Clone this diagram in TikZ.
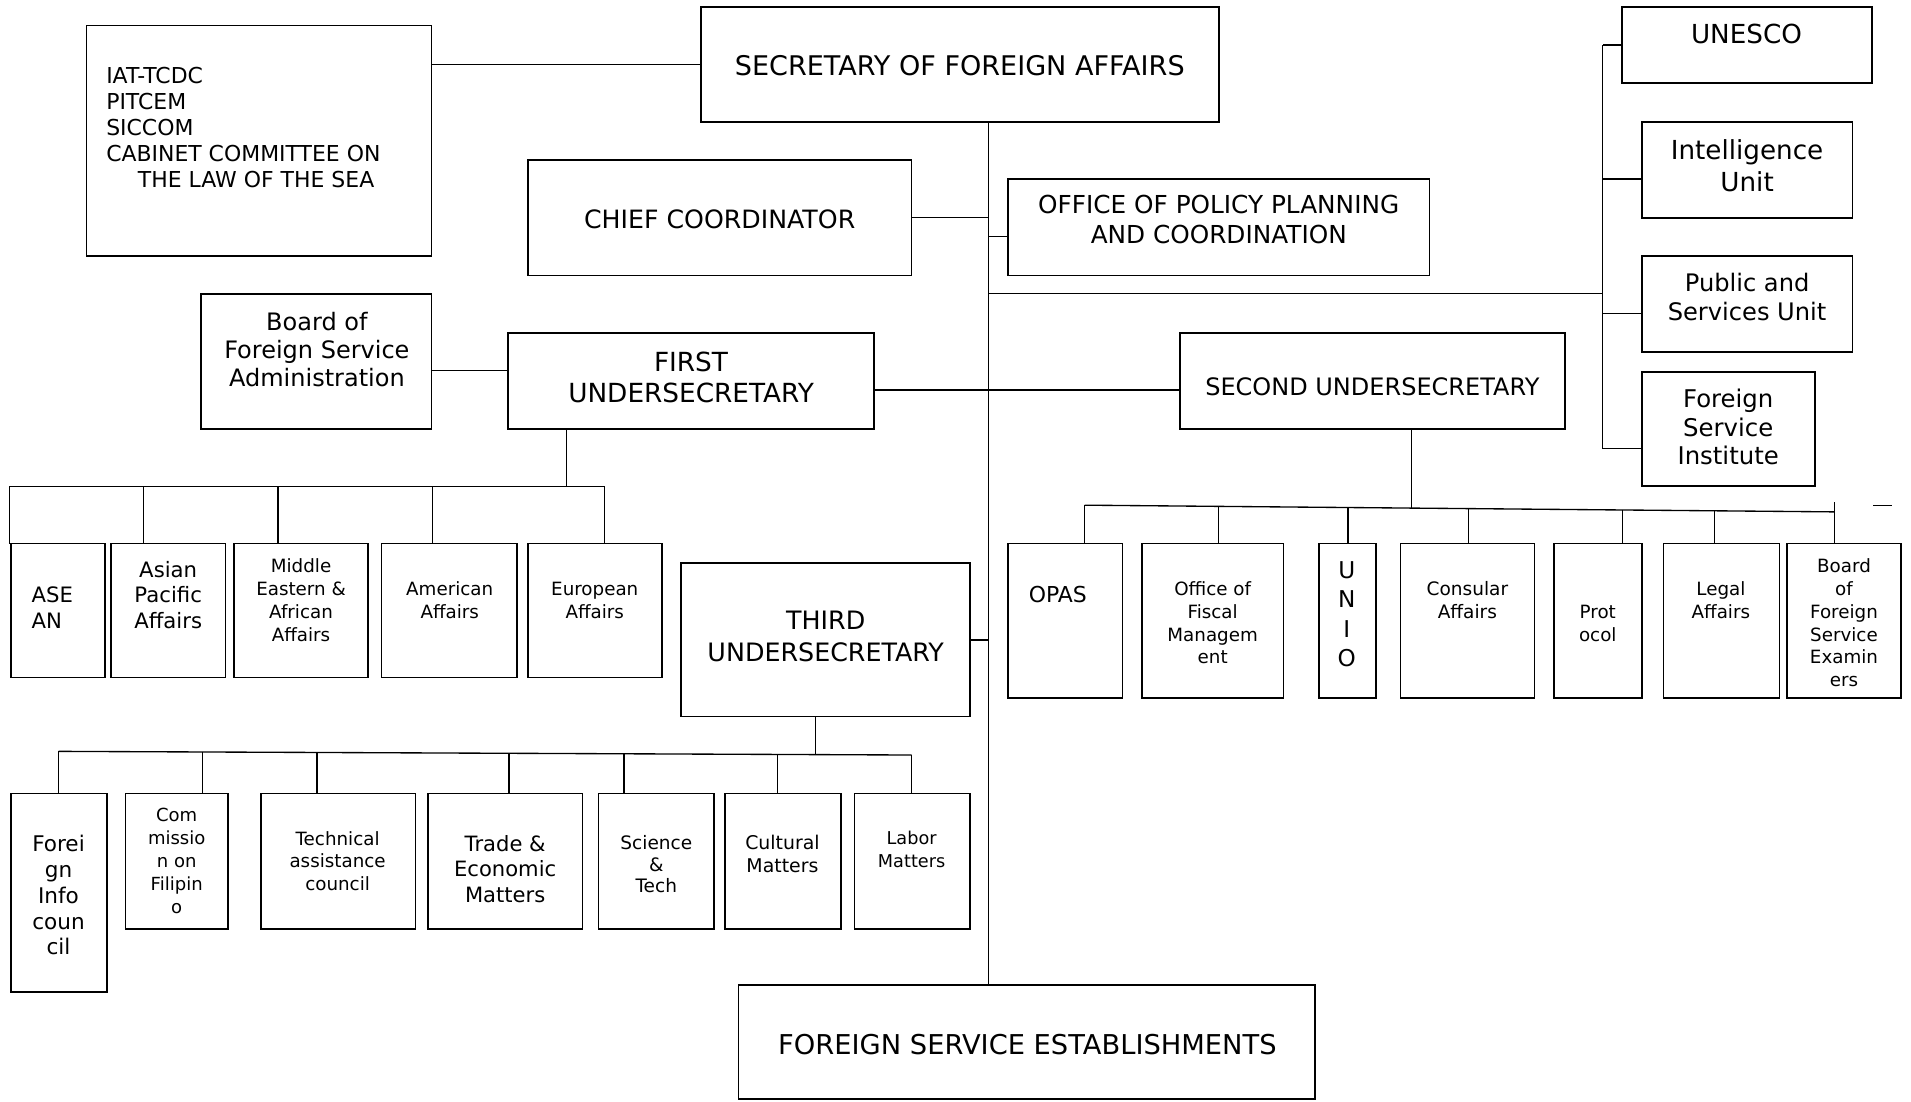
\documentclass[tikz,border=0pt]{standalone}
\usepackage{fontspec}
\setmainfont{DejaVu Sans}
\newcommand\BX[5]{\node[bx, minimum width={#4pt-#2pt}, minimum height={#5pt-#3pt}] (#1) at ({(#2+#4)/2},{(#3+#5)/2}) {};}
\begin{document}
\begin{tikzpicture}[x=1pt,y=-1pt,
  bx/.style={draw, line width=1.4pt, inner sep=0pt, outer sep=0pt},
  ln/.style={line width=1.1pt},
  txt/.style={align=center, inner sep=0pt},
  fs/.style 2 args={font=\fontsize{#1}{#2}\selectfont}]
\fill[white] (0,0) rectangle (1568,903.4);
\useasboundingbox (0,0) rectangle (1568,903.4);
% ---------------- boxes ----------------
\BX{iat}{71}{21}{354}{210}
\BX{sec}{575}{6}{1000}{100}
\BX{chief}{433}{131}{748}{226}
\BX{oppc}{827}{147}{1173}{226}
\BX{unesco}{1331}{6}{1536}{68}
\BX{intel}{1347}{100}{1520}{179}
\BX{public}{1347}{210}{1520}{289}
\BX{fsi}{1347}{305}{1489}{399}
\BX{bfsa}{165}{241}{354}{352}
\BX{first}{417}{273}{717}{352}
\BX{second}{968}{273}{1284}{352}
\BX{asean}{9}{446}{86}{556}
\BX{asian}{91}{446}{185}{556}
\BX{middle}{192}{446}{302}{556}
\BX{american}{313}{446}{424}{556}
\BX{european}{433}{446}{543}{556}
\BX{third}{559}{462}{796}{588}
\BX{opas}{827}{446}{921}{573}
\BX{fiscal}{937}{446}{1053}{573}
\BX{unio}{1082}{446}{1129}{573}
\BX{consular}{1149}{446}{1259}{573}
\BX{protocol}{1275}{446}{1347}{573}
\BX{legal}{1365}{446}{1460}{573}
\BX{bfse}{1466}{446}{1560}{573}
\BX{forinfo}{9}{651}{88}{814}
\BX{comm}{103}{651}{187}{762}
\BX{tech}{214}{651}{341}{762}
\BX{trade}{351}{651}{478}{762}
\BX{science}{491}{651}{586}{762}
\BX{cultural}{595}{651}{690}{762}
\BX{labor}{701}{651}{796}{762}
\BX{fse}{606}{808}{1079}{902}
% ---------------- texts ----------------
\node[txt, fs={22.2}{25}] (secT) at (787.5,54) {SECRETARY OF FOREIGN AFFAIRS};
\node[txt, fs={18}{21.2}, align=left, anchor=west] (iatT) at (87,104.5) {IAT-TCDC\\PITCEM\\SICCOM\\CABINET COMMITTEE ON\\\hspace*{26pt}THE LAW OF THE SEA};
\node[txt, fs={20.7}{24}] (chiefT) at (590.5,180) {CHIEF COORDINATOR};
\node[txt, fs={20.3}{24}] (oppcT) at (1000,180) {OFFICE OF POLICY PLANNING\\AND COORDINATION};
\node[txt, fs={21.5}{26}] (unescoT) at (1433,28) {UNESCO};
\node[txt, fs={21.5}{26}] (intelT) at (1433.5,136) {Intelligence\\Unit};
\node[txt, fs={19.8}{24}] (publicT) at (1433.5,244) {Public and\\Services Unit};
\node[txt, fs={20}{23.5}] (fsiT) at (1418,350.5) {Foreign\\Service\\Institute};
\node[txt, fs={19.7}{23}] (bfsaT) at (260,287) {Board of\\Foreign Service\\Administration};
\node[txt, fs={21.6}{25}] (firstT) at (567,309.5) {FIRST\\UNDERSECRETARY};
\node[txt, fs={19.7}{24}] (secondT) at (1126,317) {SECOND UNDERSECRETARY};
\node[txt, fs={17.4}{21}, align=left] (aseanT) at (43,498.5) {ASE\\AN};
\node[txt, fs={17.4}{21}] (asianT) at (138,488) {Asian\\Pacific\\Affairs};
\node[txt, fs={15}{19}] (middleT) at (247,492.5) {Middle\\Eastern \&\\African\\Affairs};
\node[txt, fs={15}{19}] (americanT) at (369,492.5) {American\\Affairs};
\node[txt, fs={15}{19}] (europeanT) at (488,492.5) {European\\Affairs};
\node[txt, fs={20.8}{26}] (thirdT) at (677.5,522) {THIRD\\UNDERSECRETARY};
\node[txt, fs={18}{21}] (opasT) at (868,488) {OPAS};
\node[txt, fs={15}{18.8}] (fiscalT) at (995,511) {Office of\\Fiscal\\Managem\\ent};
\node[txt, fs={19}{24}] (unioT) at (1105,504) {U\\N\\I\\O};
\node[txt, fs={15.2}{19}] (consularT) at (1204,492.5) {Consular\\Affairs};
\node[txt, fs={15}{19}] (protocolT) at (1311,511.5) {Prot\\ocol};
\node[txt, fs={15}{19}] (legalT) at (1412,492.5) {Legal\\Affairs};
\node[txt, fs={15}{18.8}] (bfseT) at (1513,511) {Board\\of\\Foreign\\Service\\Examin\\ers};
\node[txt, fs={17.7}{21.2}] (forinfoT) at (48,734.5) {Forei\\gn\\Info\\coun\\cil};
\node[txt, fs={14.8}{18.8}] (commT) at (145,706.5) {Com\\missio\\n on\\Filipin\\o};
\node[txt, fs={15}{18.5}] (techT) at (277,706.5) {Technical\\assistance\\council};
\node[txt, fs={17.3}{21}] (tradeT) at (414.5,713) {Trade \&\\Economic\\Matters};
\node[txt, fs={15.2}{18}] (scienceT) at (538.5,709) {Science\\\&\\Tech};
\node[txt, fs={15.5}{19}] (culturalT) at (642,700.5) {Cultural\\Matters};
\node[txt, fs={14.5}{18.5}] (laborT) at (748,697) {Labor\\Matters};
\node[txt, fs={22.4}{26}] (fseT) at (843,857) {FOREIGN SERVICE ESTABLISHMENTS};
% ---------------- connectors ----------------
\coordinate (sp) at (811,0);
\coordinate (rv) at (1315,0);
\draw[ln] (sec.west) -- (sec.west -| iat.east);
\draw[ln] (sp |- sec.south) -- (sp |- fse.north);
\draw[ln] (chief.east) -- (chief.east -| sp);
\coordinate (oppcJ) at ([yshift=-7.5pt]oppc.west);
\draw[ln] (oppcJ) -- (oppcJ -| sp);
\coordinate (hJ) at (811,241);
\draw[ln] (hJ) -- (hJ -| rv);
\coordinate (intelJ) at ([yshift=-7.5pt]intel.west);
\coordinate (publicJ) at ([yshift=-7.5pt]public.west);
\coordinate (fsiJ) at ([yshift=-16pt]fsi.west);
\draw[ln] (rv |- unesco.west) -- (rv |- fsiJ);
\draw[ln] (unesco.west) -- (unesco.west -| rv);
\draw[ln] (intelJ) -- (intelJ -| rv);
\draw[ln] (publicJ) -- (publicJ -| rv);
\draw[ln] (fsiJ) -- (fsiJ -| rv);
\coordinate (bfsaJ) at ([yshift=-7.5pt]bfsa.east);
\draw[ln] (bfsaJ) -- (bfsaJ -| first.west);
\coordinate (firstJ) at ([yshift=-7.5pt]first.east);
\draw[ln] (firstJ) -- (firstJ -| second.west);
\draw[ln] (third.east) -- (third.east -| sp);
% first undersecretary children
\coordinate (b1d) at (465,399);
\coordinate (b1L) at (8,399);
\coordinate (b1R) at (496,399);
\draw[ln] (b1d |- first.south) -- (b1d);
\draw[ln] (b1L) -- (b1R);
\draw[ln] (b1L) -- (b1L |- asean.north);
\coordinate (b1a) at (118,399);
\coordinate (b1b) at (228,399);
\coordinate (b1c) at (355,399);
\draw[ln] (b1a) -- (b1a |- asian.north);
\draw[ln] (b1b) -- (b1b |- middle.north);
\draw[ln] (b1c) -- (b1c |- american.north);
\draw[ln] (b1R) -- (b1R |- european.north);
% third undersecretary children
\coordinate (b3L) at (48,616.5);
\coordinate (b3R) at (748,619.5);
\coordinate (b3d) at (669,619.2);
\draw[ln] (b3d |- third.south) -- (b3d);
\draw[ln] (b3L) -- (b3R);
\coordinate (b3a) at (166,617.0);
\coordinate (b3b) at (260,617.4);
\coordinate (b3c) at (417.5,618.1);
\coordinate (b3e) at (512,618.5);
\coordinate (b3f) at (638,619.0);
\draw[ln] (b3L) -- (b3L |- forinfo.north);
\draw[ln] (b3a) -- (b3a |- comm.north);
\draw[ln] (b3b) -- (b3b |- tech.north);
\draw[ln] (b3c) -- (b3c |- trade.north);
\draw[ln] (b3e) -- (b3e |- science.north);
\draw[ln] (b3f) -- (b3f |- cultural.north);
\draw[ln] (b3R) -- (b3R |- labor.north);
% second undersecretary children
\coordinate (b2L) at (890,414.5);
\coordinate (b2R) at (1505,420);
\coordinate (b2d) at (1158,416.9);
\draw[ln] (b2d |- second.south) -- (b2d);
\draw[ln] (b2L) -- (b2R);
\coordinate (b2a) at (1000,415.5);
\coordinate (b2b) at (1106,416.4);
\coordinate (b2c) at (1205,417.3);
\coordinate (b2e) at (1331,418.4);
\coordinate (b2f) at (1407,419.1);
\draw[ln] (b2L) -- (b2L |- opas.north);
\draw[ln] (b2a) -- (b2a |- fiscal.north);
\draw[ln] (b2b) -- (b2b |- unio.north);
\draw[ln] (b2c) -- (b2c |- consular.north);
\draw[ln] (b2e) -- (b2e |- protocol.north);
\draw[ln] (b2f) -- (b2f |- legal.north);
\draw[ln] ([yshift=8pt]b2R) -- (b2R |- bfse.north);
\coordinate (dashL) at (1537,415);
\coordinate (dashR) at (1552,415);
\draw[ln] (dashL) -- (dashR);
\end{tikzpicture}
\end{document}
